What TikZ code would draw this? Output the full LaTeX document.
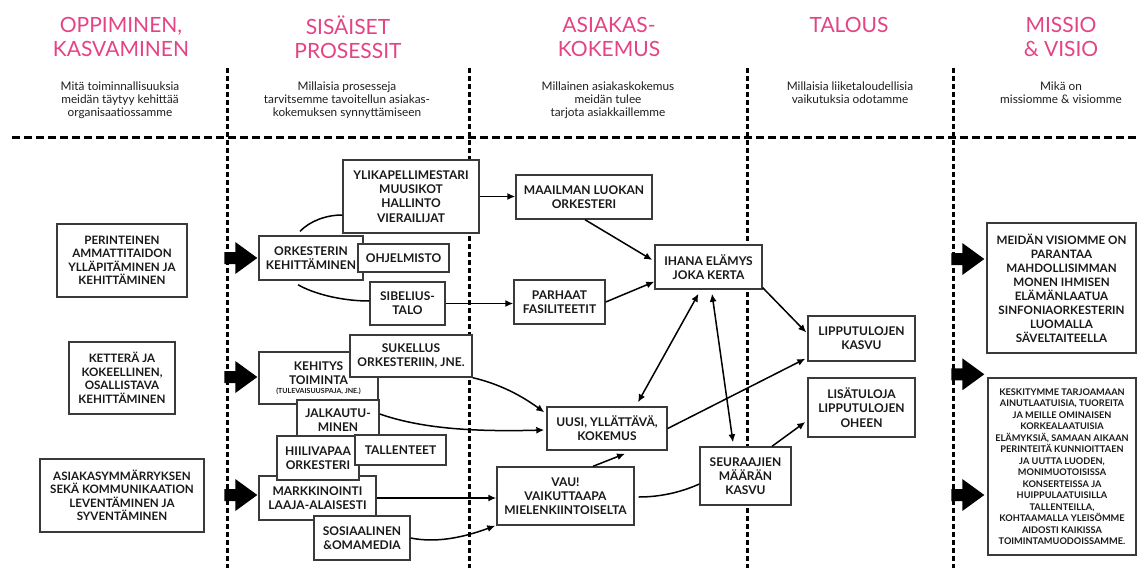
\documentclass[tikz,border=0pt]{standalone}
\usepackage{fontspec}
\setmainfont{Lato}
\usetikzlibrary{calc,arrows.meta}

\definecolor{headpink}{RGB}{228,68,132}
\definecolor{boxline}{RGB}{58,58,58}
\definecolor{subtext}{RGB}{30,30,30}

\tikzset{
  box/.style={draw=boxline, line width=1.4pt, fill=white, inner sep=0pt,
    align=center, text=black!90, font=\bfseries\fontsize{12}{14.2}\selectfont},
  leftbox/.style={box, font=\bfseries\fontsize{11.6}{13.5}\selectfont},
  visionbox/.style={box, font=\bfseries\fontsize{11.6}{14}\selectfont},
  missionbox/.style={box, font=\bfseries\fontsize{9.2}{11.5}\selectfont},
  head/.style={text=headpink, align=center, anchor=north,
    font=\fontsize{21}{24}\selectfont},
  sub/.style={text=subtext, align=center, anchor=north,
    font=\fontsize{11.8}{13.3}\selectfont},
  link/.style={line width=1.5pt, draw=black},
  arr/.style={link, -{Latex[length=8pt,width=7pt]}},
  darr/.style={link, {Latex[length=8pt,width=7pt]}-{Latex[length=8pt,width=7pt]}},
  vsep/.style={line width=3pt, dash pattern=on 5pt off 3pt},
  hsep/.style={line width=3pt, dash pattern=on 8pt off 4pt},
}

% solid block arrow ending at the given coordinate
\newcommand\fatarrow[1]{%
  \fill[black] ($(#1)+(-33,-6)$) -- ($(#1)+(-22,-6)$) -- ($(#1)+(-22,-16)$)
    -- (#1) -- ($(#1)+(-22,16)$) -- ($(#1)+(-22,6)$) -- ($(#1)+(-33,6)$) -- cycle;}

\begin{document}
\begin{tikzpicture}[x=1pt,y=-1pt]
\fill[white] (0,0) rectangle (1137,568);
\useasboundingbox (0,0) rectangle (1137,568);

% column titles
\node[head] (h1) at (121,12.5) {\strut OPPIMINEN,\\KASVAMINEN};
\node[head] (h2) at (348,12.5) {\strut SISÄISET\\PROSESSIT};
\node[head] (h3) at (609,12.5) {\strut ASIAKAS-\\KOKEMUS};
\node[head] (h4) at (849,12.5) {\strut TALOUS};
\node[head] (h5) at (1061,12.5) {\strut MISSIO\\\&~VISIO};

% column questions
\node[sub] (q1) at (120,78) {Mitä toiminnallisuuksia\\meidän täytyy kehittää\\organisaatiossamme};
\node[sub] (q2) at (347,78) {Millaisia prosesseja\\tarvitsemme tavoitellun asiakas-\\kokemuksen synnyttämiseen};
\node[sub] (q3) at (608,78) {Millainen asiakaskokemus\\meidän tulee\\tarjota asiakkaillemme};
\node[sub] (q4) at (850,78) {Millaisia liiketaloudellisia\\vaikutuksia odotamme};
\node[sub] (q5) at (1061,78) {Mikä on\\missiomme \& visiomme};

% dashed separators
\draw[hsep] (12,137) -- (1137,137);
\foreach \x in {227,469,747,953} \draw[vsep] (\x,68) -- (\x,568);

% learning and growth
\node[leftbox, minimum width=130, minimum height=73] (per) at (122,260.5) {PERINTEINEN\\AMMATTITAIDON\\YLLÄPITÄMINEN JA\\KEHITTÄMINEN};
\node[leftbox, minimum width=106, minimum height=72] (ket) at (122,378) {KETTERÄ JA\\KOKEELLINEN,\\OSALLISTAVA\\KEHITTÄMINEN};
\node[leftbox, minimum width=164, minimum height=73] (asi) at (122,495.5) {ASIAKASYMMÄRRYKSEN\\SEKÄ KOMMUNIKAATION\\LEVENTÄMINEN JA\\SYVENTÄMINEN};

% internal processes
\node[box, minimum width=104, minimum height=44] (ork) at (311,258) {ORKESTERIN\\KEHITTÄMINEN};
\node[box, minimum width=91, minimum height=28] (ohj) at (403.5,258) {OHJELMISTO};
\node[box, minimum width=136, minimum height=73] (yli) at (411,196.5) {YLIKAPELLIMESTARI\\MUUSIKOT\\HALLINTO\\VIERAILIJAT};
\node[box, minimum width=75, minimum height=43] (sib) at (407.5,303.5) {SIBELIUS-\\TALO};
\node[box, minimum width=119, minimum height=52] (keh) at (318.5,378) {KEHITYS\\TOIMINTA\\[-5pt]{\fontsize{7}{8}\selectfont(TULEVAISUUSPAJA, JNE.)}};
\node[box, minimum width=122, minimum height=42] (suk) at (411,356) {SUKELLUS\\ORKESTERIIN, JNE.};
\node[box, minimum width=82, minimum height=40] (jal) at (338,420) {JALKAUTU-\\MINEN};
\node[box, minimum width=117, minimum height=44] (mar) at (317.5,498) {MARKKINOINTI\\LAAJA-ALAISESTI};
\node[box, minimum width=82, minimum height=44] (hii) at (318,458) {HIILIVAPAA\\ORKESTERI};
\node[box, minimum width=91, minimum height=30] (tal) at (400.5,450) {TALLENTEET};
\node[box, minimum width=96, minimum height=44] (sos) at (362,538) {SOSIAALINEN\\\&OMAMEDIA};

% customer experience
\node[box, minimum width=136, minimum height=44] (maa) at (584,197) {MAAILMAN LUOKAN\\ORKESTERI};
\node[box, minimum width=91, minimum height=44] (par) at (559.5,302) {PARHAAT\\FASILITEETIT};
\node[box, minimum width=107, minimum height=44] (iha) at (708.5,267) {IHANA ELÄMYS\\JOKA KERTA};
\node[box, minimum width=120, minimum height=43] (uus) at (607,428.5) {UUSI, YLLÄTTÄVÄ,\\KOKEMUS};
\node[box, minimum width=137, minimum height=58] (vau) at (565.5,496) {VAU!\\VAIKUTTAAPA\\MIELENKIINTOISELTA};

% finance
\node[box, minimum width=91, minimum height=58] (seu) at (745.5,476) {SEURAAJIEN\\MÄÄRÄN\\KASVU};
\node[box, minimum width=107, minimum height=45] (lip) at (861.5,338.5) {LIPPUTULOJEN\\KASVU};
\node[box, minimum width=107, minimum height=59] (lis) at (861.5,407.5) {LISÄTULOJA\\LIPPUTULOJEN\\OHEEN};

% mission and vision
\node[visionbox, minimum width=149, minimum height=130] (vis) at (1061.5,288) {MEIDÄN VISIOMME ON\\PARANTAA\\MAHDOLLISIMMAN\\MONEN IHMISEN\\ELÄMÄNLAATUA\\SINFONIAORKESTERIN\\LUOMALLA\\SÄVELTAITEELLA};
\node[missionbox, minimum width=148, minimum height=177] (kes) at (1062,466.5) {KESKITYMME TARJOAMAAN\\AINUTLAATUISIA, TUOREITA\\JA MEILLE OMINAISEN\\KORKEALAATUISIA\\ELÄMYKSIÄ, SAMAAN AIKAAN\\PERINTEITÄ KUNNIOITTAEN\\JA UUTTA LUODEN,\\MONIMUOTOISISSA\\KONSERTEISSA JA\\HUIPPULAATUISILLA\\TALLENTEILLA,\\KOHTAAMALLA YLEISÖMME\\AIDOSTI KAIKISSA\\TOIMINTAMUODOISSAMME.};

% connectors
\draw[link] ($(ork.north)+(-11,-4)$) .. controls (310,221) and (326,215) .. ($(yli.west)+(0,18.5)$);
\draw[link] ($(ork.south)+(-13,4)$) .. controls (312,293) and (340,301) .. ($(sib.west)+(0,-2.5)$);
\draw[arr] (sib.east) -- (sib.east -| par.west);
\draw[arr] (yli.east) -- (yli.east -| maa.west);
\draw[arr] ($(maa.south)+(1,0)$) -- ($(iha.west)+(-2,-7)$);
\draw[arr] (par.east) -- ($(iha.south west)+(0,-8)$);
\draw[arr] ($(iha.south east)+(0,-2)$) -- ($(lip.west)+(-1,-6)$);
\draw[darr] ($(iha.south)+(-10,4)$) -- ($(uus.north)+(31,-4)$);
\draw[darr] ($(iha.south)+(3.5,4)$) -- ($(seu.north)+(-12.5,-4)$);
\draw[arr] (uus.east) -- ($(lip.south west)+(-2,-3)$);
\draw[arr] ($(seu.north)+(26.5,0)$) -- ($(lis.west)+(-2,14.5)$);
\draw[arr] ($(vau.north)+(27.5,0)$) -- ($(uus.south)+(18,3)$);
\draw[link] ($(vau.east)+(4,1)$) .. controls (665,497) and (686,490) .. ($(seu.west)+(0,8)$);
\draw[arr] ($(jal.east)+(0,-6)$) .. controls (420,428) and (470,432) .. ($(uus.west)+(-2,1.5)$);
\draw[arr] (suk.south east) .. controls (500,384) and (522,396) .. ($(uus.north west)+(-2,6)$);
\draw[arr] (mar.east) -- (mar.east -| vau.west);
\draw[arr] (sos.east) .. controls (440,544) and (470,535) .. ($(vau.south west)+(-1,0)$);

% block arrows between columns
\coordinate (ta) at ($(ork.west)+(-1,0)$);
\coordinate (tb) at ($(keh.west)+(-1,-1)$);
\coordinate (tc) at ($(mar.west)+(-1,-3)$);
\coordinate (td) at ($(vis.west)+(-2,-29)$);
\coordinate (te) at ($(kes.north west)+(-3,-3)$);
\coordinate (tf) at ($(kes.west)+(-3,28.5)$);
\fatarrow{ta}
\fatarrow{tb}
\fatarrow{tc}
\fatarrow{td}
\fatarrow{te}
\fatarrow{tf}
\end{tikzpicture}
\end{document}
